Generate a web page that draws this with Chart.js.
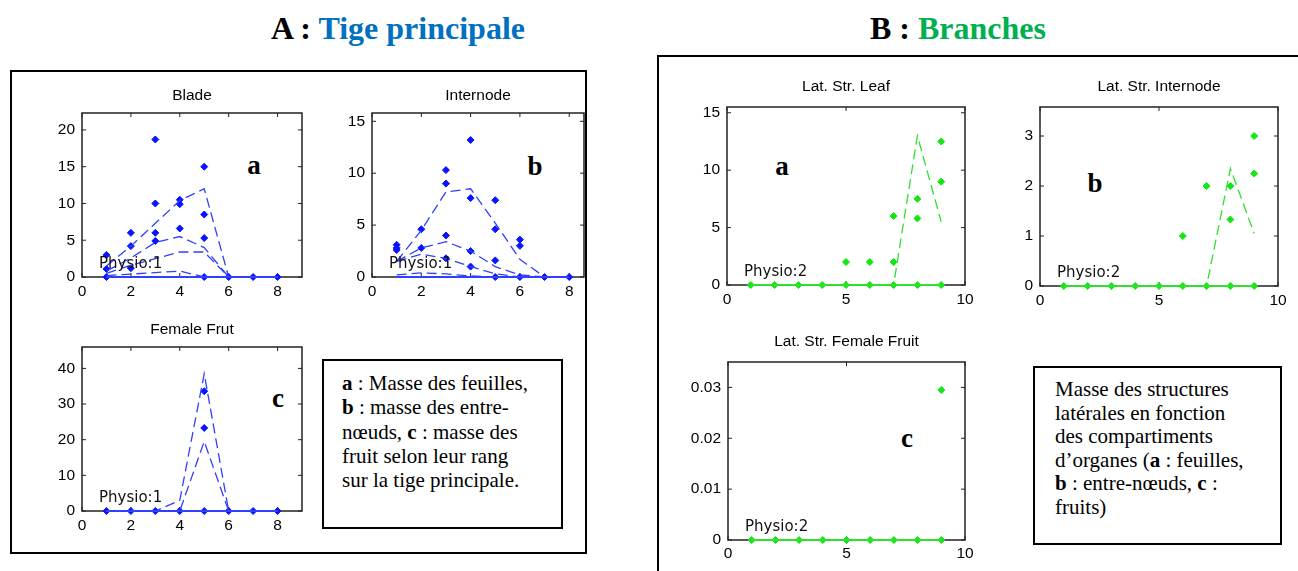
<!DOCTYPE html>
<html>
<head>
<meta charset="utf-8">
<script src="https://cdn.jsdelivr.net/npm/chart.js@4.4.1/dist/chart.umd.min.js"></script>
<style>
body{margin:0;width:1298px;height:571px;overflow:hidden;background:#fff;position:relative}
.panel{position:absolute;border:2px solid #000;box-sizing:border-box}
.head{position:absolute;top:10px;font:bold 32px/36px "Liberation Serif",serif;white-space:nowrap;transform:translateX(-50%)}
.note{position:absolute;border:2px solid #000;box-sizing:border-box;font:21px "Liberation Serif",serif;color:#000;white-space:nowrap}
.letter{position:absolute;font:bold 27px/27px "Liberation Serif",serif;transform:translateX(-50%)}
canvas{position:absolute}
</style>
</head>
<body>
<div class="panel" style="left:10px;top:70px;width:577px;height:484px"></div>
<div class="panel" style="left:657px;top:55px;width:700px;height:600px"></div>
<div class="head" style="left:398px">A : <span style="color:#0070c0">Tige principale</span></div>
<div class="head" style="left:958px">B : <span style="color:#00b050">Branches</span></div>

<div class="note" style="left:322px;top:359px;width:241px;height:170px;padding:10px 0 0 18px;line-height:24.3px">
<b>a</b> : Masse des feuilles,<br><b>b</b> : masse des entre-<br>nœuds, <b>c</b> : masse des<br>fruit selon leur rang<br>sur la tige principale.</div>
<div class="note" style="left:1033px;top:366px;width:249px;height:179px;padding:10px 0 0 20px;line-height:23.6px">
Masse des structures<br>latérales en fonction<br>des compartiments<br>d’organes (<b>a</b> : feuilles,<br><b>b</b> : entre-nœuds, <b>c</b> :<br>fruits)</div>

<div class="letter" style="left:254px;top:152px">a</div>
<div class="letter" style="left:535px;top:153px">b</div>
<div class="letter" style="left:278px;top:385px">c</div>
<div class="letter" style="left:782px;top:153px">a</div>
<div class="letter" style="left:1095px;top:170px">b</div>
<div class="letter" style="left:907px;top:425px">c</div>

<script>
// rank along the main stem / branches
const mainRanks = [1, 2, 3, 4, 5, 6, 7, 8];
const branchRanks = [1, 2, 3, 4, 5, 6, 7, 8, 9];

// A a : Blade
const bladeX = [1, 1, 1, 2, 2, 2, 3, 3, 3, 3, 4, 4, 4, 5, 5, 5, 5, 6, 7, 8];
const bladeY = [3, 1.1, 0, 6, 4.2, 1.2, 18.7, 10, 6, 4.9, 10.5, 9.9, 6.6, 15, 8.5, 5.3, 0, 0, 0, 0];
const bladeL1 = [1.5, 4.2, 7.3, 10.4, 12, 0, 0, 0];
const bladeL2 = [0.8, 2.6, 4.7, 5.5, 4, 0, 0, 0];
const bladeL3 = [0.5, 1.6, 2.5, 3.4, 3.4, 0, 0, 0];
const bladeL4 = [0.2, 0.4, 0.6, 0.8, 0, 0, 0, 0];
const mainZero = [0, 0, 0, 0, 0, 0, 0, 0];

// A b : Internode
const interX = [1, 1, 1, 2, 2, 3, 3, 3, 3, 4, 4, 4, 4, 5, 5, 5, 5, 6, 6, 6, 7, 8];
const interY = [3.1, 2.8, 2.6, 4.6, 2.8, 10.3, 9, 4, 1.8, 13.2, 7.6, 2.5, 1, 7.4, 4.6, 1.6, 0, 3.6, 3, 0, 0, 0];
const interL1 = [1.5, 4.5, 8.2, 8.5, 5.2, 1.7, 0, 0];
const interL2 = [1.5, 2.8, 3.4, 2.5, 1, 0.2, 0, 0];
const interL3 = [1.5, 2.2, 1.8, 1, 0.3, 0, 0, 0];
const interL4 = [0.2, 0.4, 0.3, 0.1, 0, 0, 0, 0];

// A c : Female fruit
const fruitX = [1, 2, 3, 4, 5, 5, 5, 6, 7, 8];
const fruitY = [0, 0, 0, 0, 33.6, 23.3, 0, 0, 0, 0];
const fruitL1 = [0, 0, 0, 3, 38.5, 0, 0, 0];
const fruitL2 = [0, 0, 0, 0, 19.5, 0, 0, 0];

// B a : lateral leaf
const latLeafX = [1, 2, 3, 4, 5, 5, 6, 6, 7, 7, 7, 8, 8, 8, 9, 9, 9];
const latLeafY = [0, 0, 0, 0, 0, 2, 0, 2, 0, 2, 6, 0, 5.8, 7.5, 0, 9, 12.5];
const latLeafL1 = [0, 0, 0, 0, 0, 0, 0, 13, 5.5];
// B b : lateral internode
const latInterX = [1, 2, 3, 4, 5, 6, 6, 7, 7, 8, 8, 8, 9, 9, 9];
const latInterY = [0, 0, 0, 0, 0, 0, 1, 0, 2, 0, 1.33, 2, 0, 2.25, 3];
const latInterL1 = [0, 0, 0, 0, 0, 0, 0, 2.35, 1.05];
// B c : lateral female fruit
const latFruitX = [1, 2, 3, 4, 5, 6, 7, 8, 9, 9];
const latFruitY = [0, 0, 0, 0, 0, 0, 0, 0, 0, 0.0295];
const branchZero = [0, 0, 0, 0, 0, 0, 0, 0, 0];

// tick labels
const mainXTicks = [0, 2, 4, 6, 8];
const branchXTicks = [0, 5, 10];
const bladeYTicks = [0, 5, 10, 15, 20];
const interYTicks = [0, 5, 10, 15];
const fruitYTicks = [0, 10, 20, 30, 40];
const latLeafYTicks = [0, 5, 10, 15];
const latInterYTicks = [0, 1, 2, 3];
const latFruitYTicks = [0, 0.01, 0.02, 0.03];

const BLUE = '#0a14ff', BLUE_L = '#2f40ff';
const GREEN = '#14e614', GREEN_L = '#2fe02f';

const frame = {
  id: 'frame',
  beforeDatasetsDraw(chart) {
    const {ctx, chartArea: a, scales: {x, y}} = chart;
    ctx.save();
    ctx.strokeStyle = '#222';
    ctx.lineWidth = 1.5;
    ctx.strokeRect(a.left, a.top, a.right - a.left, a.bottom - a.top);
    ctx.lineWidth = 1;
    ctx.beginPath();
    x.ticks.forEach(t => {
      const p = x.getPixelForValue(t.value);
      ctx.moveTo(p, a.bottom); ctx.lineTo(p, a.bottom - 4);
      ctx.moveTo(p, a.top); ctx.lineTo(p, a.top + 4);
    });
    y.ticks.forEach(t => {
      const p = y.getPixelForValue(t.value);
      ctx.moveTo(a.left, p); ctx.lineTo(a.left + 4, p);
      ctx.moveTo(a.right, p); ctx.lineTo(a.right - 4, p);
    });
    ctx.stroke();
    ctx.restore();
  },
  afterDatasetsDraw(chart, args, opts) {
    const {ctx, chartArea: a} = chart;
    ctx.save();
    ctx.fillStyle = '#000';
    ctx.textBaseline = 'middle';
    ctx.font = '15.5px "Liberation Sans"';
    ctx.textAlign = 'center';
    ctx.fillText(opts.title, (a.left + a.right) / 2, a.top - opts.gap);
    ctx.font = '15px "DejaVu Sans"';
    ctx.fillStyle = '#111';
    ctx.textAlign = 'left';
    ctx.fillText(opts.label, a.left + 17, a.bottom - 13);
    ctx.restore();
  }
};

function plot(p) {
  const [L, T, R, B] = p.box;
  const c = document.createElement('canvas');
  c.width = R - L + 100;
  c.height = B - T + 60;
  c.style.left = (L - 50) + 'px';
  c.style.top = (T - 35) + 'px';
  document.body.appendChild(c);

  const datasets = [];
  p.lines.forEach(l => datasets.push({
    type: 'line', data: l.map((v, i) => ({x: p.ranks[i], y: v})),
    borderColor: p.lineColor, borderWidth: 1.3, borderDash: [10, 5],
    pointRadius: 0, tension: 0, clip: false
  }));
  datasets.push({
    type: 'line', data: p.zero.map((v, i) => ({x: p.ranks[i], y: v})),
    borderColor: p.lineColor, borderWidth: 2, pointRadius: 0, clip: false
  });
  datasets.push({
    type: 'scatter', data: p.px.map((v, i) => ({x: v, y: p.py[i]})),
    pointStyle: 'rectRot', pointRadius: 3.5,
    backgroundColor: p.color, borderColor: p.color, clip: false
  });

  const tickFont = {family: 'Liberation Sans', size: 15.5};
  new Chart(c, {
    type: 'scatter',
    data: {datasets},
    options: {
      responsive: false,
      animation: false,
      layout: {padding: {top: 35, right: 50}},
      plugins: {
        legend: {display: false},
        tooltip: {enabled: false},
        frame: {label: p.physio, title: p.title, gap: p.gap}
      },
      scales: {
        x: {
          type: 'linear', min: 0, max: p.xmax,
          grid: {display: false, drawTicks: false}, border: {display: false},
          ticks: {font: tickFont, color: '#000', padding: p.xpad, maxRotation: 0, autoSkip: false, callback: v => v},
          afterBuildTicks: s => { s.ticks = p.xticks.map(v => ({value: v})); },
          afterFit: s => { s.height = 25; }
        },
        y: {
          type: 'linear', min: 0, max: p.ymax,
          grid: {display: false, drawTicks: false}, border: {display: false},
          ticks: {font: tickFont, color: '#000', padding: 7, autoSkip: false, callback: v => v},
          afterBuildTicks: s => { s.ticks = p.yticks.map(v => ({value: v})); },
          afterFit: s => { s.width = 50; }
        }
      }
    },
    plugins: [frame]
  });
}

plot({box: [82, 113, 302, 277], title: 'Blade', gap: 17, ranks: mainRanks, xmax: 9, ymax: 22.3,
  xticks: mainXTicks, yticks: bladeYTicks, xpad: 5, px: bladeX, py: bladeY,
  lines: [bladeL1, bladeL2, bladeL3, bladeL4], zero: mainZero, color: BLUE, lineColor: BLUE_L, physio: 'Physio:1'});
plot({box: [372, 113, 584, 277], title: 'Internode', gap: 17, ranks: mainRanks, xmax: 8.6, ymax: 15.8,
  xticks: mainXTicks, yticks: interYTicks, xpad: 5, px: interX, py: interY,
  lines: [interL1, interL2, interL3, interL4], zero: mainZero, color: BLUE, lineColor: BLUE_L, physio: 'Physio:1'});
plot({box: [82, 347, 302, 511], title: 'Female Frut', gap: 17, ranks: mainRanks, xmax: 9, ymax: 46,
  xticks: mainXTicks, yticks: fruitYTicks, xpad: 5, px: fruitX, py: fruitY,
  lines: [fruitL1, fruitL2], zero: mainZero, color: BLUE, lineColor: BLUE_L, physio: 'Physio:1'});
plot({box: [727, 107, 965, 285], title: 'Lat. Str. Leaf', gap: 20, ranks: branchRanks, xmax: 10, ymax: 15.5,
  xticks: branchXTicks, yticks: latLeafYTicks, xpad: 5, px: latLeafX, py: latLeafY,
  lines: [latLeafL1], zero: branchZero, color: GREEN, lineColor: GREEN_L, physio: 'Physio:2'});
plot({box: [1040, 107, 1278, 286], title: 'Lat. Str. Internode', gap: 20, ranks: branchRanks, xmax: 10, ymax: 3.58,
  xticks: branchXTicks, yticks: latInterYTicks, xpad: 5, px: latInterX, py: latInterY,
  lines: [latInterL1], zero: branchZero, color: GREEN, lineColor: GREEN_L, physio: 'Physio:2'});
plot({box: [728, 362, 965, 540], title: 'Lat. Str. Female Fruit', gap: 20, ranks: branchRanks, xmax: 10, ymax: 0.035,
  xticks: branchXTicks, yticks: latFruitYTicks, xpad: 4, px: latFruitX, py: latFruitY,
  lines: [], zero: branchZero, color: GREEN, lineColor: GREEN_L, physio: 'Physio:2'});
</script>
</body>
</html>
